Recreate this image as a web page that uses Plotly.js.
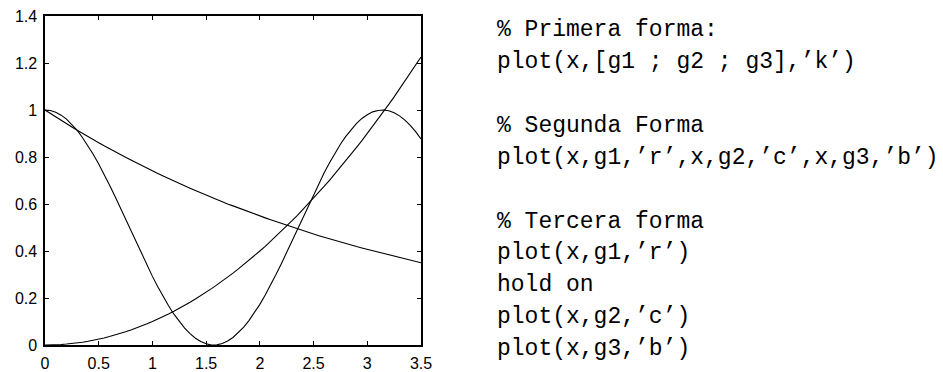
<!DOCTYPE html>
<html>
<head>
<meta charset="utf-8">
<script src="https://cdn.plot.ly/plotly-3.0.1.min.js"></script>
<style>
  html, body { margin: 0; padding: 0; background: #fff; }
  #chart { width: 943px; height: 372px; }
</style>
</head>
<body>
<div id="chart"></div>
<script>
// Sample points along x (0 .. 3.5, step 0.05)
const xs = [0,0.05,0.1,0.15,0.2,0.25,0.3,0.35,0.4,0.45,0.5,0.55,0.6,0.65,0.7,0.75,0.8,0.85,0.9,0.95,
  1,1.05,1.1,1.15,1.2,1.25,1.3,1.35,1.4,1.45,1.5,1.55,1.6,1.65,1.7,1.75,1.8,1.85,1.9,1.95,
  2,2.05,2.1,2.15,2.2,2.25,2.3,2.35,2.4,2.45,2.5,2.55,2.6,2.65,2.7,2.75,2.8,2.85,2.9,2.95,
  3,3.05,3.1,3.15,3.2,3.25,3.3,3.35,3.4,3.45,3.5];

// g1: oscillating curve (1 -> 0 near 1.57 -> 1 near 3.14)
const g1 = [1,0.998,0.990,0.978,0.961,0.939,0.913,0.882,0.848,0.811,0.770,0.727,0.681,0.634,0.585,0.535,0.485,0.436,0.386,0.338,
  0.292,0.248,0.206,0.167,0.131,0.099,0.072,0.048,0.029,0.015,0.005,0.000,0.001,0.006,0.017,0.032,0.052,0.076,0.105,0.137,
  0.173,0.213,0.255,0.300,0.346,0.395,0.444,0.494,0.544,0.593,0.642,0.689,0.734,0.777,0.817,0.854,0.888,0.917,0.943,0.964,
  0.980,0.992,0.998,1.000,0.997,0.988,0.975,0.957,0.935,0.908,0.877];

// g2: decaying curve (1 -> 0.35)
const g2 = [1,0.985,0.970,0.956,0.942,0.928,0.914,0.900,0.887,0.874,0.861,0.848,0.835,0.823,0.811,0.799,0.787,0.775,0.763,0.752,
  0.741,0.730,0.719,0.708,0.698,0.687,0.677,0.667,0.657,0.647,0.638,0.628,0.619,0.610,0.600,0.592,0.583,0.574,0.566,0.557,
  0.549,0.541,0.533,0.525,0.517,0.509,0.502,0.494,0.487,0.480,0.472,0.465,0.458,0.452,0.445,0.438,0.432,0.425,0.419,0.413,
  0.407,0.401,0.395,0.389,0.383,0.377,0.372,0.366,0.361,0.355,0.350];

// g3: rising curve (0 -> 1.225)
const g3 = [0,0.000,0.001,0.002,0.004,0.006,0.009,0.012,0.016,0.020,0.025,0.030,0.036,0.042,0.049,0.056,0.064,0.072,0.081,0.090,
  0.100,0.110,0.121,0.132,0.144,0.156,0.169,0.182,0.196,0.210,0.225,0.240,0.256,0.272,0.289,0.306,0.324,0.342,0.361,0.380,
  0.400,0.420,0.441,0.462,0.484,0.506,0.529,0.552,0.576,0.600,0.625,0.650,0.676,0.702,0.729,0.756,0.784,0.812,0.841,0.870,
  0.900,0.930,0.961,0.992,1.024,1.056,1.089,1.122,1.156,1.190,1.225];

// Axis ticks
const xTickVals = [0,0.5,1,1.5,2,2.5,3,3.5];
const xTickText = ["0","0.5","1","1.5","2","2.5","3","3.5"];
const yTickVals = [0,0.2,0.4,0.6,0.8,1,1.2,1.4];
const yTickText = ["0","0.2","0.4","0.6","0.8","1","1.2","1.4"];

// Code listing shown beside the plot (null = blank line)
const codeLines = [
  "% Primera forma:",
  "plot(x,[g1 ; g2 ; g3],\u2019k\u2019)",
  null,
  "% Segunda Forma",
  "plot(x,g1,\u2019r\u2019,x,g2,\u2019c\u2019,x,g3,\u2019b\u2019)",
  null,
  "% Tercera forma",
  "plot(x,g1,\u2019r\u2019)",
  "hold on",
  "plot(x,g2,\u2019c\u2019)",
  "plot(x,g3,\u2019b\u2019)"
];

// Figure geometry (pixels)
const W = 943, H = 372;
const M = { l: 45, r: 522, t: 16, b: 26.5 };
const plotW = W - M.l - M.r;
const plotH = H - M.t - M.b;

const codeFont = { family: "Liberation Mono, Courier New, monospace", size: 23, color: "#000" };
const codeLeft = 495;      // left edge of listing
const firstBaseline = 37;  // baseline of first line
const lineStep = 31.9;     // line pitch

const annotations = [];
codeLines.forEach((txt, i) => {
  if (txt === null) return;
  const yPx = firstBaseline + i * lineStep - 6.5;
  annotations.push({
    xref: "paper", yref: "paper",
    x: (codeLeft - M.l) / plotW,
    y: 1 - (yPx - M.t) / plotH,
    xanchor: "left", yanchor: "middle",
    text: txt, showarrow: false,
    font: codeFont, align: "left"
  });
});

const lineStyle = { color: "#000", width: 1.1 };
const traces = [
  { x: xs, y: g1, mode: "lines", line: lineStyle, name: "g1" },
  { x: xs, y: g2, mode: "lines", line: lineStyle, name: "g2" },
  { x: xs, y: g3, mode: "lines", line: lineStyle, name: "g3" }
];

const axisCommon = {
  showgrid: false, zeroline: false,
  showline: true, linecolor: "#000", linewidth: 1.6,
  mirror: "ticks", ticks: "inside", ticklen: 4, tickwidth: 1, tickcolor: "#000",
  tickfont: { family: "Liberation Sans, Arial, sans-serif", size: 16, color: "#000" }
};

const layout = {
  width: W, height: H,
  margin: M,
  paper_bgcolor: "#fff", plot_bgcolor: "#fff",
  showlegend: false,
  xaxis: Object.assign({}, axisCommon, {
    range: [0, 3.5], tickvals: xTickVals, ticktext: xTickText, fixedrange: true,
    ticklabelstandoff: 3
  }),
  yaxis: Object.assign({}, axisCommon, {
    range: [0, 1.4], tickvals: yTickVals, ticktext: yTickText, fixedrange: true,
    ticklabelstandoff: 3
  }),
  annotations: annotations
};

Plotly.newPlot("chart", traces, layout, { displayModeBar: false, staticPlot: true });
</script>
</body>
</html>
